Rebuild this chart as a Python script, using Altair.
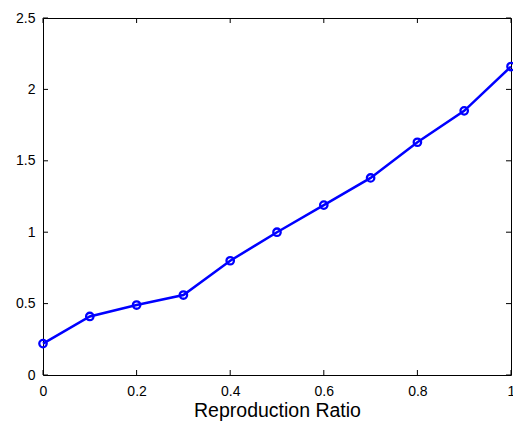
import altair as alt
import pandas as pd

# Reproduction ratio vs. measured response
ratio = [0.0, 0.1, 0.2, 0.3, 0.4, 0.5, 0.6, 0.7, 0.8, 0.9, 1.0]
value = [0.22, 0.41, 0.49, 0.56, 0.80, 1.00, 1.19, 1.38, 1.63, 1.85, 2.16]
x_ticks = [0, 0.2, 0.4, 0.6, 0.8, 1.0]
y_ticks = [0, 0.5, 1.0, 1.5, 2.0, 2.5]

df = pd.DataFrame({"ratio": ratio, "value": value})
xt = pd.DataFrame({"t": x_ticks})
yt = pd.DataFrame({"t": y_ticks})

FONT = "Liberation Sans"
BLUE = "#0000ff"
W, H = 468, 357
TICK = 5

x_scale = alt.Scale(domain=[0, 1], nice=False, zero=False)
y_scale = alt.Scale(domain=[0, 2.5], nice=False, zero=False)

common_axis = dict(
    grid=False, domain=False, ticks=False, tickSize=0, format="~g",
    labelFont=FONT, labelFontSize=14, labelColor="black",
    titleFont=FONT, titleColor="black", titleFontWeight="normal",
)

x_axis = alt.Axis(values=x_ticks, labelPadding=9, labelFlush=False,
                  title="Reproduction Ratio", titleFontSize=19.5, titlePadding=3,
                  **common_axis)
y_axis = alt.Axis(values=y_ticks, labelPadding=8, title=None, **common_axis)

line = alt.Chart(df).mark_line(color=BLUE, strokeWidth=2.5).encode(
    x=alt.X("ratio:Q", scale=x_scale, axis=x_axis),
    y=alt.Y("value:Q", scale=y_scale, axis=y_axis),
)

points = alt.Chart(df).mark_point(
    shape="circle", filled=False, color=BLUE, size=55, strokeWidth=2.3, opacity=1
).encode(
    x=alt.X("ratio:Q", scale=x_scale),
    y=alt.Y("value:Q", scale=y_scale),
)

# inward tick marks on all four sides of the box
tick_style = dict(color="black", strokeWidth=1, opacity=1)
x_ticks_bottom = alt.Chart(xt).mark_rule(**tick_style).encode(
    x=alt.X("t:Q", scale=x_scale), y=alt.value(H), y2=alt.value(H - TICK))
x_ticks_top = alt.Chart(xt).mark_rule(**tick_style).encode(
    x=alt.X("t:Q", scale=x_scale), y=alt.value(0), y2=alt.value(TICK))
y_ticks_left = alt.Chart(yt).mark_rule(**tick_style).encode(
    y=alt.Y("t:Q", scale=y_scale), x=alt.value(0), x2=alt.value(TICK))
y_ticks_right = alt.Chart(yt).mark_rule(**tick_style).encode(
    y=alt.Y("t:Q", scale=y_scale), x=alt.value(W), x2=alt.value(W - TICK))

chart = (
    alt.layer(x_ticks_bottom, x_ticks_top, y_ticks_left, y_ticks_right, line, points)
    .properties(
        width=W, height=H,
        padding={"left": 43, "top": 18, "right": 2, "bottom": 47},
        autosize=alt.AutoSizeParams(type="none"),
        background="white",
    )
    .configure_view(stroke="black", strokeWidth=1)
)

chart.save("out.html", embed_options={"renderer": "svg", "actions": False})
